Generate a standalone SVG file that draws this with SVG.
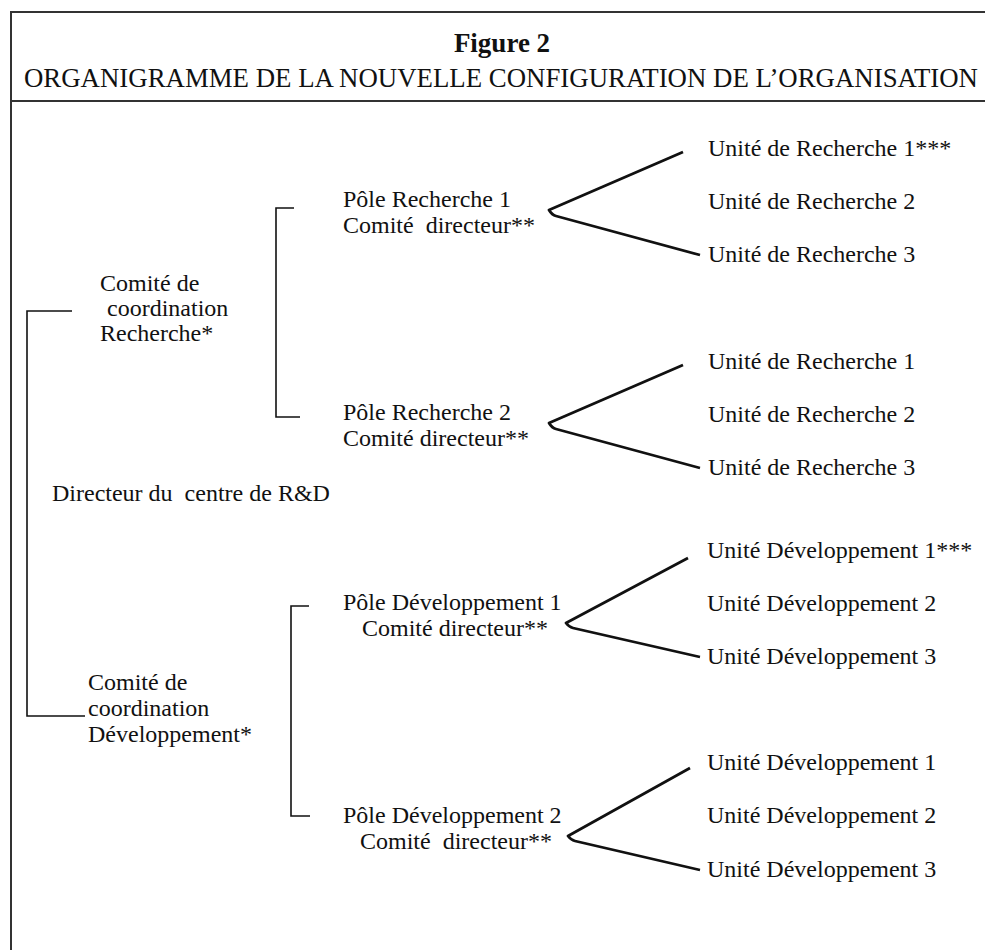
<svg xmlns="http://www.w3.org/2000/svg" width="985" height="950" viewBox="0 0 985 950">
<style>
  text { font-family: "Liberation Serif", "Times New Roman", serif; fill: #111; white-space: pre; }
  .t { font-size: 24px; }
  .frame { stroke: #333; stroke-width: 2; fill: none; }
  .br { stroke: #111; stroke-width: 1.6; fill: none; }
  .v { stroke: #111; stroke-width: 2.8; fill: none; stroke-linejoin: round; }
</style>
<rect width="985" height="950" fill="#fff"/>
<g id="frame">
  <path class="frame" d="M11,950 V12 H985"/>
  <line class="frame" x1="11" y1="101" x2="985" y2="101"/>
</g>
<g id="title">
  <text x="502" y="52" text-anchor="middle" style="font-size:27px;font-weight:bold">Figure 2</text>
  <text x="24" y="87" style="font-size:26.5px" textLength="954" lengthAdjust="spacingAndGlyphs">ORGANIGRAMME DE LA NOUVELLE CONFIGURATION DE L’ORGANISATION</text>
</g>
<g id="connectors">
  <path class="br" d="M72,311 H27 V716 H85"/>
  <path class="br" d="M294,208 H276 V417 H300"/>
  <path class="br" d="M309,606 H291 V816 H310"/>
  <path class="v" d="M683,152 L549,210 Q552,215 556,216 L700,255"/>
  <path class="v" d="M683,365 L549,423 Q552,428 556,429 L700,468"/>
  <path class="v" d="M688,558 L566,623 Q569,627 573,628 L700,657"/>
  <path class="v" d="M690,768 L568,836 Q571,840 575,841 L700,870"/>
</g>
<g id="director">
  <text class="t" x="52" y="501">Directeur du  centre de R&amp;D</text>
</g>
<g id="coord-recherche">
  <text class="t" x="100" y="291">Comité de</text>
  <text class="t" x="107" y="316">coordination</text>
  <text class="t" x="100" y="341">Recherche*</text>
</g>
<g id="coord-developpement">
  <text class="t" x="88" y="690">Comité de</text>
  <text class="t" x="88" y="716">coordination</text>
  <text class="t" x="88" y="742">Développement*</text>
</g>
<g id="pole-recherche-1">
  <text class="t" x="343" y="207">Pôle Recherche 1</text>
  <text class="t" x="343" y="233">Comité  directeur**</text>
</g>
<g id="pole-recherche-2">
  <text class="t" x="343" y="420">Pôle Recherche 2</text>
  <text class="t" x="343" y="446">Comité directeur**</text>
</g>
<g id="pole-developpement-1">
  <text class="t" x="343" y="610">Pôle Développement 1</text>
  <text class="t" x="362" y="636">Comité directeur**</text>
</g>
<g id="pole-developpement-2">
  <text class="t" x="343" y="823">Pôle Développement 2</text>
  <text class="t" x="360" y="849">Comité  directeur**</text>
</g>
<g id="unites-recherche-1">
  <text class="t" x="708" y="156">Unité de Recherche 1***</text>
  <text class="t" x="708" y="209">Unité de Recherche 2</text>
  <text class="t" x="708" y="262">Unité de Recherche 3</text>
</g>
<g id="unites-recherche-2">
  <text class="t" x="708" y="369">Unité de Recherche 1</text>
  <text class="t" x="708" y="422">Unité de Recherche 2</text>
  <text class="t" x="708" y="475">Unité de Recherche 3</text>
</g>
<g id="unites-developpement-1">
  <text class="t" x="707" y="558">Unité Développement 1***</text>
  <text class="t" x="707" y="611">Unité Développement 2</text>
  <text class="t" x="707" y="664">Unité Développement 3</text>
</g>
<g id="unites-developpement-2">
  <text class="t" x="707" y="770">Unité Développement 1</text>
  <text class="t" x="707" y="823">Unité Développement 2</text>
  <text class="t" x="707" y="877">Unité Développement 3</text>
</g>
</svg>
